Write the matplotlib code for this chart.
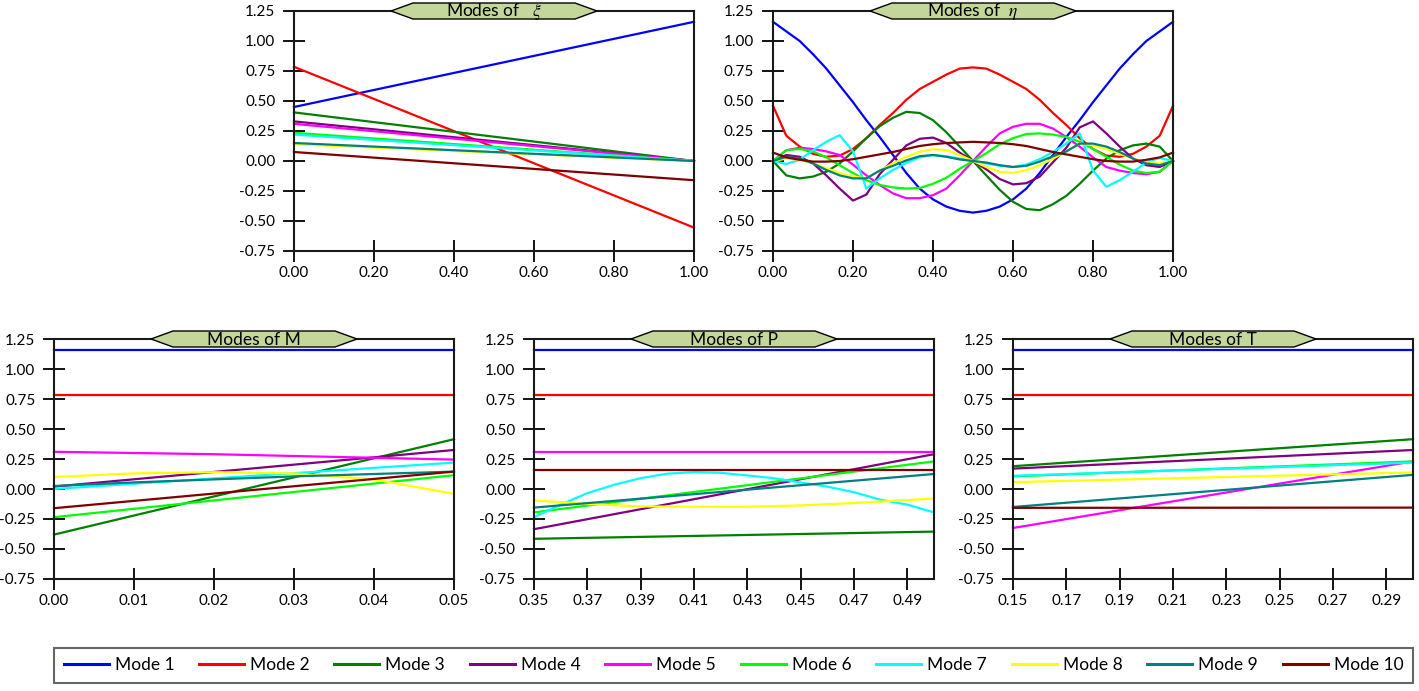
import matplotlib
matplotlib.use("Agg")
import matplotlib.pyplot as plt
from matplotlib.patches import Polygon

plt.rcParams["font.family"] = ["Lato", "DejaVu Sans"]
plt.rcParams["axes.unicode_minus"] = False
plt.rcParams["mathtext.fontset"] = "stix"

# ---- data ------------------------------------------------------------------
MODE_NAMES = [f"Mode {i}" for i in range(1, 11)]
MODE_COLORS = ["#0000ff", "#ff0000", "#008000", "#800080", "#ff00ff",
               "#00ff00", "#00ffff", "#ffff00", "#008080", "#800000"]

# Modes of xi: straight lines from x=0 to x=1
XI_X = [0.0, 1.0]
XI_Y = [
    [0.45, 1.16], [0.785, -0.555], [0.405, 0.0], [0.33, 0.0], [0.31, 0.0],
    [0.235, 0.0], [0.22, 0.0], [0.14, 0.0], [0.15, 0.0], [0.075, -0.16],
]

# Modes of eta: sampled every 1/30
ETA_X = [0.0, 0.0333, 0.0667, 0.1, 0.1333, 0.1667, 0.2, 0.2333, 0.2667, 0.3,
         0.3333, 0.3667, 0.4, 0.4333, 0.4667, 0.5, 0.5333, 0.5667, 0.6, 0.6333,
         0.6667, 0.7, 0.7333, 0.7667, 0.8, 0.8333, 0.8667, 0.9, 0.9333, 0.9667, 1.0]
ETA_Y = [
    [1.16, 1.08, 1.0, 0.89, 0.77, 0.63, 0.49, 0.34, 0.2, 0.05, -0.1, -0.23, -0.32, -0.38, -0.415, -0.43,
     -0.415, -0.38, -0.32, -0.23, -0.1, 0.05, 0.2, 0.34, 0.49, 0.63, 0.77, 0.89, 1.0, 1.08, 1.16],
    [0.46, 0.21, 0.12, 0.06, 0.035, 0.045, 0.10, 0.19, 0.30, 0.40, 0.51, 0.60, 0.66, 0.72, 0.77, 0.78,
     0.77, 0.72, 0.66, 0.60, 0.51, 0.40, 0.30, 0.19, 0.10, 0.045, 0.035, 0.06, 0.12, 0.21, 0.46],
    [0.0, -0.12, -0.145, -0.13, -0.09, -0.02, 0.08, 0.19, 0.29, 0.36, 0.41, 0.40, 0.34, 0.24, 0.12, 0.0,
     -0.12, -0.24, -0.34, -0.40, -0.41, -0.36, -0.29, -0.19, -0.08, 0.02, 0.09, 0.13, 0.145, 0.12, 0.0],
    [0.0, 0.05, 0.035, -0.02, -0.12, -0.23, -0.33, -0.28, -0.11, 0.01, 0.13, 0.185, 0.195, 0.15, 0.07, 0.0,
     -0.07, -0.15, -0.195, -0.185, -0.13, -0.01, 0.11, 0.28, 0.33, 0.23, 0.12, 0.02, -0.035, -0.05, 0.0],
    [0.0, 0.09, 0.11, 0.10, 0.08, 0.05, -0.03, -0.12, -0.20, -0.27, -0.31, -0.31, -0.285, -0.23, -0.12, 0.0,
     0.12, 0.23, 0.285, 0.31, 0.31, 0.27, 0.20, 0.12, 0.03, -0.05, -0.08, -0.10, -0.11, -0.09, 0.0],
    [0.0, 0.09, 0.10, 0.08, 0.03, -0.035, -0.10, -0.16, -0.20, -0.22, -0.23, -0.225, -0.19, -0.14, -0.065, 0.0,
     0.065, 0.14, 0.19, 0.225, 0.23, 0.22, 0.20, 0.16, 0.10, 0.035, -0.03, -0.08, -0.10, -0.09, 0.0],
    [0.0, -0.025, 0.01, 0.09, 0.16, 0.215, 0.08, -0.23, -0.145, -0.075, -0.015, 0.03, 0.05, 0.04, 0.02, 0.0,
     -0.02, -0.04, -0.05, -0.03, 0.015, 0.075, 0.145, 0.23, -0.08, -0.215, -0.16, -0.09, -0.01, 0.025, 0.0],
    [0.0, 0.02, 0.01, -0.02, -0.06, -0.10, -0.13, -0.145, -0.08, -0.02, 0.035, 0.077, 0.099, 0.09, 0.05, 0.0,
     -0.05, -0.09, -0.099, -0.077, -0.035, 0.02, 0.08, 0.145, 0.13, 0.10, 0.06, 0.02, -0.01, -0.02, 0.0],
    [0.0, 0.035, 0.02, -0.02, -0.075, -0.12, -0.145, -0.145, -0.08, -0.04, 0.005, 0.04, 0.05, 0.035, 0.013, 0.0,
     -0.013, -0.035, -0.05, -0.04, -0.005, 0.04, 0.08, 0.145, 0.145, 0.12, 0.075, 0.02, -0.02, -0.035, 0.0],
    [0.07, 0.03, 0.01, -0.005, -0.005, 0.0, 0.015, 0.035, 0.055, 0.075, 0.10, 0.125, 0.14, 0.15, 0.155, 0.16,
     0.155, 0.15, 0.14, 0.125, 0.10, 0.075, 0.055, 0.035, 0.015, 0.0, -0.005, -0.005, 0.01, 0.03, 0.07],
]

# Modes of M (x from 0 to 0.05)
M_X = [
    [0.0, 0.05], [0.0, 0.05], [0.0, 0.05], [0.0, 0.05],
    [0.0, 0.01, 0.02, 0.03, 0.04, 0.05], [0.0, 0.05], [0.0, 0.05],
    [0.0, 0.01, 0.02, 0.03, 0.04, 0.05], [0.0, 0.01, 0.02, 0.03, 0.04, 0.05], [0.0, 0.05],
]
M_Y = [
    [1.16, 1.16], [0.785, 0.785], [-0.38, 0.415], [0.02, 0.325],
    [0.31, 0.30, 0.29, 0.275, 0.26, 0.245], [-0.235, 0.115], [0.0, 0.22],
    [0.10, 0.13, 0.14, 0.13, 0.08, -0.04], [0.025, 0.055, 0.08, 0.105, 0.125, 0.145], [-0.16, 0.145],
]

# Modes of P (x from 0.35 to 0.50)
P_X = [
    [0.35, 0.50], [0.35, 0.50], [0.35, 0.50], [0.35, 0.50], [0.35, 0.50], [0.35, 0.50],
    [0.35, 0.36, 0.37, 0.38, 0.39, 0.40, 0.41, 0.42, 0.43, 0.44, 0.45, 0.46, 0.47, 0.48, 0.49, 0.50],
    [0.35, 0.37, 0.39, 0.41, 0.43, 0.45, 0.47, 0.50],
    [0.35, 0.50], [0.35, 0.50],
]
P_Y = [
    [1.16, 1.16], [0.785, 0.785], [-0.415, -0.355], [-0.335, 0.29], [0.31, 0.31], [-0.195, 0.23],
    [-0.235, -0.13, -0.035, 0.035, 0.09, 0.128, 0.141, 0.135, 0.113, 0.09, 0.054, 0.02, -0.027, -0.09,
     -0.13, -0.195],
    [-0.095, -0.125, -0.145, -0.148, -0.148, -0.137, -0.117, -0.08],
    [-0.155, 0.125], [0.155, 0.155],
]

# Modes of T (x from 0.15 to 0.30)
T_X = [[0.15, 0.30]] * 10
T_Y = [
    [1.16, 1.16], [0.785, 0.785], [0.19, 0.415], [0.17, 0.325], [-0.325, 0.23],
    [0.105, 0.23], [0.11, 0.22], [0.057, 0.138], [-0.15, 0.118], [-0.157, -0.155],
]

Y_TICKS = [-0.75, -0.5, -0.25, 0.0, 0.25, 0.5, 0.75, 1.0, 1.25]

# ---- figure ----------------------------------------------------------------
W, H = 1419, 691
fig = plt.figure(figsize=(W / 100, H / 100), dpi=100)


def px_axes(left, top, right, bottom):
    return fig.add_axes([left / W, 1 - bottom / H, (right - left) / W, (bottom - top) / H])


def badge(ax, label):
    # hexagonal title tag centred on the top spine
    pos = ax.get_position()
    cx = (pos.x0 + pos.x1) / 2 * W
    cy = pos.y1 * H
    hw, inner, hh = 103, 81, 8
    pts = [(cx - hw, cy), (cx - inner, cy + hh), (cx + inner, cy + hh),
           (cx + hw, cy), (cx + inner, cy - hh), (cx - inner, cy - hh)]
    pts = [(x / W, y / H) for x, y in pts]
    fig.add_artist(Polygon(pts, closed=True, facecolor="#c4d79b", edgecolor="black",
                           lw=1.0, transform=fig.transFigure, zorder=5))
    fig.text(cx / W, cy / H - 0.001, label, ha="center", va="center", fontsize=12.5,
             zorder=6)


def style(ax, xlim, xticks):
    ax.set_xlim(*xlim)
    ax.set_ylim(-0.75, 1.25)
    ax.set_yticks(Y_TICKS)
    ax.set_yticklabels([f"{v:.2f}" for v in Y_TICKS])
    ax.set_xticks(xticks)
    ax.set_xticklabels([f"{v:.2f}" for v in xticks])
    ax.tick_params(axis="both", direction="inout", length=16, width=1.3,
                   labelsize=11, colors="black")
    ax.tick_params(axis="y", pad=5.5)
    ax.tick_params(axis="x", pad=3)
    for sp in ax.spines.values():
        sp.set_linewidth(1.5)
        sp.set_color("#1a1a1a")


panels = [
    ((294, 11, 694, 251), [XI_X] * 10, XI_Y, (0, 1), [0, 0.2, 0.4, 0.6, 0.8, 1.0], r"Modes of   $\xi$"),
    ((773, 11, 1173, 251), [ETA_X] * 10, ETA_Y, (0, 1), [0, 0.2, 0.4, 0.6, 0.8, 1.0], r"Modes of  $\eta$"),
    ((54, 339, 454, 579), M_X, M_Y, (0, 0.05), [0, 0.01, 0.02, 0.03, 0.04, 0.05], "Modes of M"),
    ((534, 339, 934, 579), P_X, P_Y, (0.35, 0.50),
     [0.35, 0.37, 0.39, 0.41, 0.43, 0.45, 0.47, 0.49], "Modes of P"),
    ((1013, 339, 1413, 579), T_X, T_Y, (0.15, 0.30),
     [0.15, 0.17, 0.19, 0.21, 0.23, 0.25, 0.27, 0.29], "Modes of T"),
]

for box, xs, ys, xlim, xticks, title in panels:
    ax = px_axes(*box)
    for x, y, c, name in zip(xs, ys, MODE_COLORS, MODE_NAMES):
        ax.plot(x, y, color=c, lw=1.6, label=name, clip_on=False)
    style(ax, xlim, xticks)
    badge(ax, title)

# legend across the bottom
lax = px_axes(54, 643, 1413, 688)
lax.axis("off")
handles = [plt.Line2D([], [], color=c, lw=2.2) for c in MODE_COLORS]
leg = lax.legend(handles, MODE_NAMES, loc="center", ncol=10, mode="expand",
                 bbox_to_anchor=(0, 0, 1, 1), borderaxespad=0, frameon=True,
                 fancybox=False, fontsize=12.5, handlelength=2.6, handletextpad=0.35,
                 borderpad=0.55)
leg.get_frame().set_edgecolor("#404040")
leg.get_frame().set_linewidth(1.5)

fig.savefig("out.png", dpi=100)
